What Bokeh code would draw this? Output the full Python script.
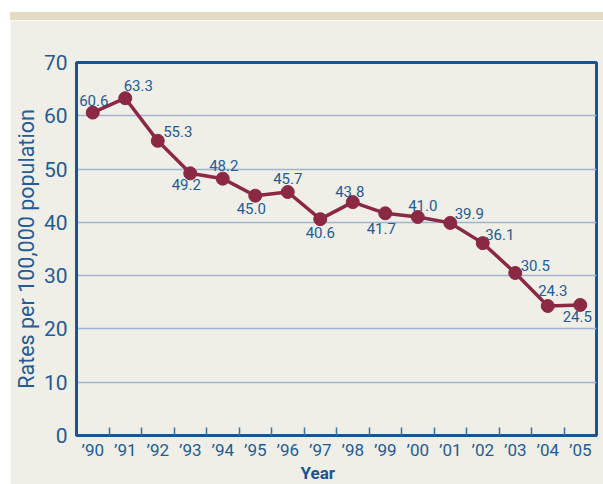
from bokeh.plotting import figure
from bokeh.models import FixedTicker, Div, Title, ColumnDataSource, Range1d
from bokeh.layouts import column
from bokeh.embed import file_html
from bokeh.resources import INLINE
from bokeh.core.properties import value

# ---- data ----
year_labels = ["’90", "’91", "’92", "’93", "’94", "’95", "’96", "’97",
               "’98", "’99", "’00", "’01", "’02", "’03", "’04", "’05"]
rates = [60.6, 63.3, 55.3, 49.2, 48.2, 45.0, 45.7, 40.6,
         43.8, 41.7, 41.0, 39.9, 36.1, 30.5, 24.3, 24.5]
y_ticks = [0, 10, 20, 30, 40, 50, 60, 70]

# ---- label placement (pixels, style only) ----
label_dx = [1, 13, 20, -4, 1, -4, 0, 0, -3, -4, 5, 19, 17, 20, 5, -3]
label_dy = [-12, -13, -9, 11, -13, 13, -13, 13, -11, 15, -12, -9, -9, -7, -16, 12]

BLUE_TXT = "#235c96"
AXIS_BLUE = "#1b5591"
GRID_BLUE = "#9fb5d2"
MAROON = "#8b2944"
BG = "#efeee7"
BAND = "#e2dcc2"
FONT = "Roboto"

xs = list(range(len(rates)))
src = ColumnDataSource(dict(
    x=xs, y=rates, txt=["%.1f" % r for r in rates], dx=label_dx, dy=label_dy))

p = figure(width=593, height=464, output_backend="svg", toolbar_location=None,
           x_range=Range1d(-0.5, len(rates) - 0.5), y_range=Range1d(0, 70),
           min_border_left=66, min_border_right=7, min_border_top=42,
           min_border_bottom=44, margin=(0, 0, 0, 10))
p.background_fill_color = BG
p.border_fill_color = BG
p.outline_line_color = AXIS_BLUE
p.outline_line_width = 3

# grid
p.xgrid.visible = False
p.ygrid.ticker = FixedTicker(ticks=y_ticks)
p.ygrid.grid_line_color = GRID_BLUE
p.ygrid.grid_line_width = 1.5

# x axis
xa = p.xaxis[0]
xa.ticker = FixedTicker(ticks=xs, minor_ticks=[i + 0.5 for i in xs[:-1]])
xa.major_label_overrides = {i: lab for i, lab in zip(xs, year_labels)}
xa.major_tick_line_color = None
xa.major_tick_in = 0
xa.major_tick_out = 0
xa.minor_tick_in = 8
xa.minor_tick_out = 0
xa.minor_tick_line_color = "#3f6fa3"
xa.minor_tick_line_width = 1.5
xa.axis_line_color = AXIS_BLUE
xa.axis_line_width = 3
xa.major_label_text_font = FONT
xa.major_label_text_font_size = "17px"
xa.major_label_text_color = BLUE_TXT
xa.major_label_standoff = 4

# y axis
ya = p.yaxis[0]
ya.ticker = FixedTicker(ticks=y_ticks)
ya.major_tick_line_color = None
ya.major_tick_in = 0
ya.major_tick_out = 0
ya.minor_tick_line_color = None
ya.minor_tick_in = 0
ya.minor_tick_out = 0
ya.axis_line_color = AXIS_BLUE
ya.axis_line_width = 3
ya.major_label_text_font = FONT
ya.major_label_text_font_size = "21px"
ya.major_label_text_color = BLUE_TXT
ya.major_label_standoff = 9
ya.axis_label = "Rates per 100,000 population"
ya.axis_label_text_font = FONT
ya.axis_label_text_font_size = "21.5px"
ya.axis_label_text_font_style = "normal"
ya.axis_label_text_color = BLUE_TXT
ya.axis_label_standoff = 2

# series
p.line("x", "y", source=src, line_color=MAROON, line_width=3.5)
p.scatter("x", "y", source=src, size=13, fill_color=MAROON, line_color=MAROON)
p.text("x", "y", text="txt", source=src, x_offset="dx", y_offset="dy",
       text_font=value(FONT), text_font_size="15px", text_color=BLUE_TXT,
       text_align="center", text_baseline="middle")

# x axis title
p.add_layout(Title(text="Year", align="left", offset=224, standoff=0,
                   vertical_align="top",
                   text_font=FONT, text_font_size="17px",
                   text_font_style="bold", text_color=AXIS_BLUE), "below")

band = Div(text="", width=593, height=8, margin=(12, 0, 0, 10),
           styles={"background-color": BAND})

layout = column(band, p, spacing=0)
open("out.html", "w").write(file_html(layout, INLINE))
